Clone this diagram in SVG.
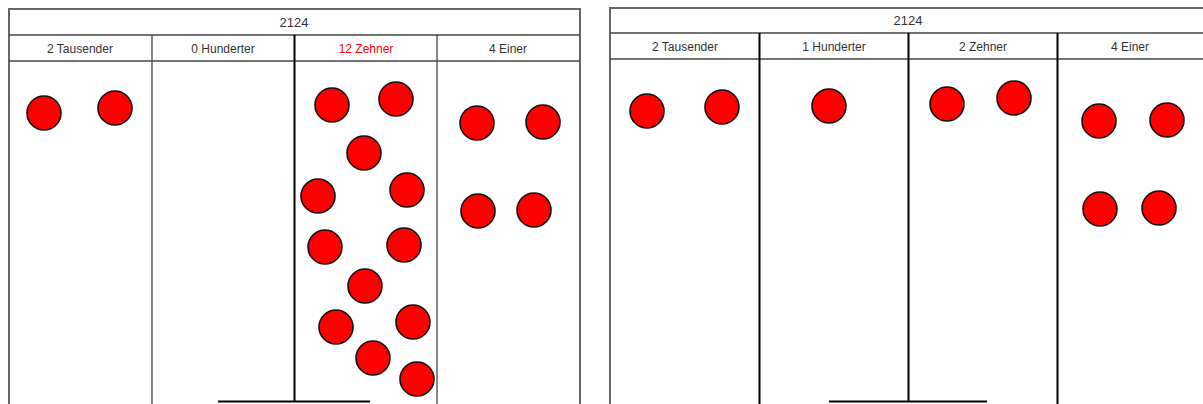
<svg xmlns="http://www.w3.org/2000/svg" width="1203" height="404" viewBox="0 0 1203 404">
<style>
.frame{fill:none;stroke:#666;stroke-width:2}
.grid{stroke:#444;stroke-width:1.3;fill:none}
.axis{stroke:#000;stroke-width:2;fill:none}
.t{font-family:"Liberation Sans",Arial,sans-serif;font-size:13px;fill:#333;text-anchor:middle}
.h{font-family:"Liberation Sans",Arial,sans-serif;font-size:12px;fill:#333;text-anchor:middle}
.red{fill:#f00}
.c{fill:#f00;stroke:#111;stroke-width:1.6}
</style>
<rect width="1203" height="404" fill="#fff"/>
<g id="table-left">
<path class="frame" d="M9,405 V9 H580 V405"/>
<line class="grid" x1="9" y1="35" x2="580" y2="35"/>
<line class="grid" x1="9" y1="61" x2="580" y2="61"/>
<line class="grid" x1="152" y1="35" x2="152" y2="405"/>
<line class="axis" x1="294.5" y1="35" x2="294.5" y2="402"/>
<line class="grid" x1="437" y1="35" x2="437" y2="405"/>
<line class="axis" x1="218" y1="401.5" x2="370" y2="401.5"/>
<text class="t" x="294" y="27">2124</text>
<text class="h" x="80" y="53">2 Tausender</text>
<text class="h" x="223" y="53">0 Hunderter</text>
<text class="h red" x="366" y="53">12 Zehner</text>
<text class="h" x="508" y="53">4 Einer</text>
</g>
<g id="tokens-left">
<circle class="c" cx="44" cy="113" r="17"/>
<circle class="c" cx="115" cy="108" r="17"/>
<circle class="c" cx="332" cy="105" r="17"/>
<circle class="c" cx="396" cy="99" r="17"/>
<circle class="c" cx="364" cy="153" r="17"/>
<circle class="c" cx="318" cy="196" r="17"/>
<circle class="c" cx="407" cy="190" r="17"/>
<circle class="c" cx="325" cy="247" r="17"/>
<circle class="c" cx="404" cy="245" r="17"/>
<circle class="c" cx="365" cy="286" r="17"/>
<circle class="c" cx="336" cy="327" r="17"/>
<circle class="c" cx="413" cy="322" r="17"/>
<circle class="c" cx="373" cy="358" r="17"/>
<circle class="c" cx="417" cy="379" r="17"/>
<circle class="c" cx="477" cy="123" r="17"/>
<circle class="c" cx="543" cy="122" r="17"/>
<circle class="c" cx="478" cy="211" r="17"/>
<circle class="c" cx="534" cy="210" r="17"/>
</g>
<g id="table-right">
<path class="frame" d="M610,405 V8 H1205"/>
<line class="grid" x1="610" y1="33" x2="1203" y2="33"/>
<line class="grid" x1="610" y1="59" x2="1203" y2="59"/>
<line class="axis" x1="759.5" y1="33" x2="759.5" y2="405"/>
<line class="axis" x1="908.5" y1="33" x2="908.5" y2="402"/>
<line class="axis" x1="1057.5" y1="33" x2="1057.5" y2="405"/>
<line class="axis" x1="829" y1="401.5" x2="987" y2="401.5"/>
<text class="t" x="908" y="25">2124</text>
<text class="h" x="685" y="51">2 Tausender</text>
<text class="h" x="834" y="51">1 Hunderter</text>
<text class="h" x="983" y="51">2 Zehner</text>
<text class="h" x="1130" y="51">4 Einer</text>
</g>
<g id="tokens-right">
<circle class="c" cx="647" cy="111" r="17"/>
<circle class="c" cx="722" cy="107" r="17"/>
<circle class="c" cx="829" cy="106" r="17"/>
<circle class="c" cx="947" cy="104" r="17"/>
<circle class="c" cx="1014" cy="98" r="17"/>
<circle class="c" cx="1099" cy="121" r="17"/>
<circle class="c" cx="1167" cy="120" r="17"/>
<circle class="c" cx="1100" cy="209" r="17"/>
<circle class="c" cx="1159" cy="208" r="17"/>
</g>
</svg>
